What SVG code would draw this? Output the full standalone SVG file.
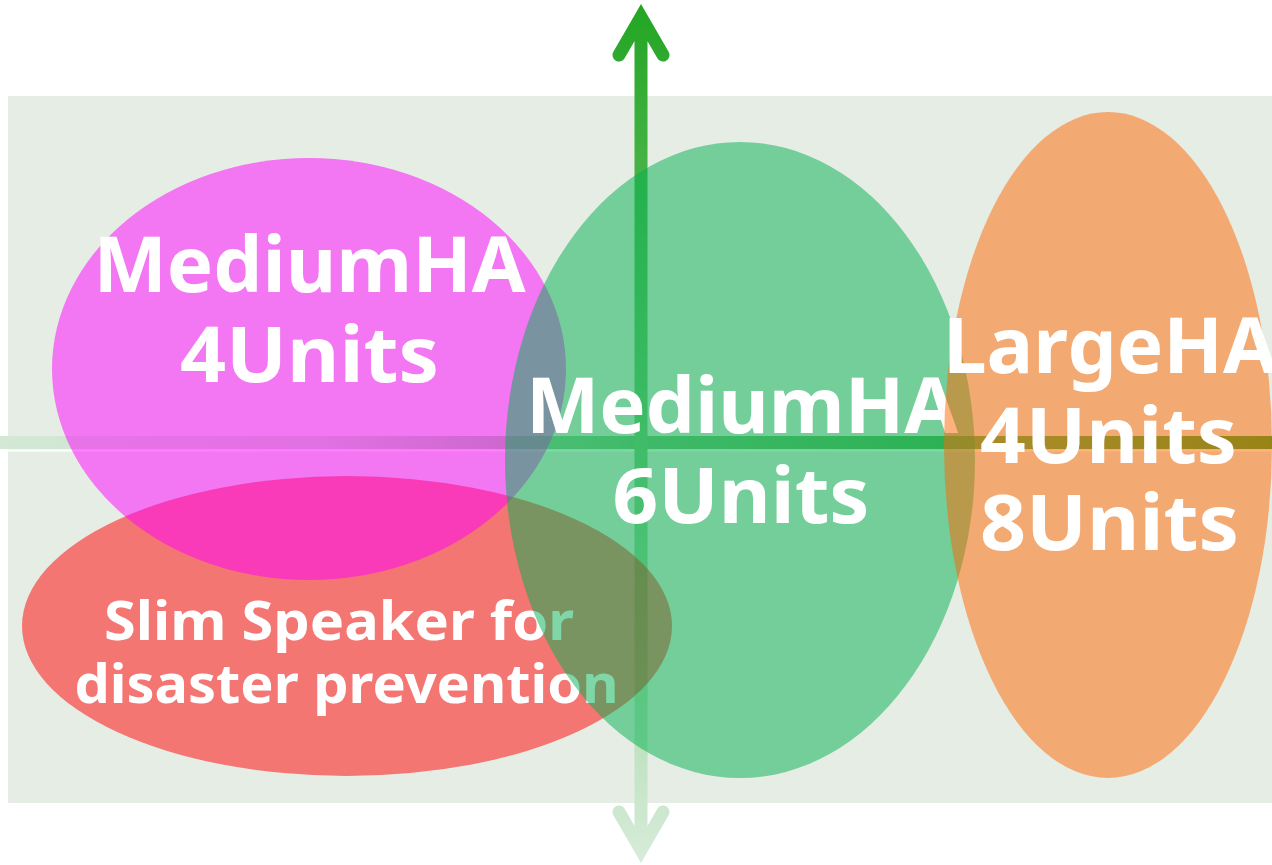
<svg xmlns="http://www.w3.org/2000/svg" width="1272" height="865" viewBox="0 0 1272 865">
<defs>
<linearGradient id="gh" gradientUnits="userSpaceOnUse" x1="0" y1="0" x2="1272" y2="0">
<stop offset="0" stop-color="#d4e8d6"/>
<stop offset="0.25" stop-color="#c4e2c7"/>
<stop offset="0.5" stop-color="#80c482"/>
<stop offset="1" stop-color="#2fa32f"/>
</linearGradient>
<linearGradient id="gv" gradientUnits="userSpaceOnUse" x1="0" y1="0" x2="0" y2="865">
<stop offset="0" stop-color="#22a522"/>
<stop offset="1" stop-color="#d8ecda"/>
</linearGradient>
<style>
.t{font-family:"Noto Sans","Noto Sans CJK JP",sans-serif;font-weight:bold;fill:#fff;text-anchor:middle}
.big{font-size:77px}
.sm{font-size:53px}
.e{opacity:0.5}
</style>
</defs>
<rect x="8" y="96" width="1264" height="707" fill="#e6ede5"/>
<g id="connectors" fill="none" stroke-width="13">
<line x1="0" y1="442.5" x2="1272" y2="442.5" stroke="url(#gh)"/>
<line x1="8" y1="450.5" x2="1272" y2="450.5" stroke="#fff" stroke-width="2"/>
<path d="M641 17 V850 M619 55 L641 17 L663 55 M619 812 L641 850 L663 812" stroke="url(#gv)" stroke-linecap="round" stroke-linejoin="miter"/>
</g>
<g id="slim">
<ellipse class="e" cx="347" cy="626" rx="325" ry="150" fill="#ff0000"/>
<text class="t sm" x="339" y="640" textLength="470" lengthAdjust="spacingAndGlyphs">Slim Speaker for</text>
<text class="t sm" x="346.5" y="703" textLength="544" lengthAdjust="spacingAndGlyphs">disaster prevention</text>
</g>
<g id="medium4">
<ellipse class="e" cx="309" cy="369" rx="257" ry="211" fill="#ff00ff"/>
<text class="t big" x="309.5" y="292" textLength="432" lengthAdjust="spacingAndGlyphs">MediumHA</text>
<text class="t big" x="309.5" y="382" textLength="259" lengthAdjust="spacingAndGlyphs">4Units</text>
</g>
<g id="medium6">
<ellipse class="e" cx="740" cy="460" rx="235" ry="318" fill="#00af50"/>
<text class="t big" x="742" y="433" textLength="432" lengthAdjust="spacingAndGlyphs">MediumHA</text>
<text class="t big" x="741" y="523" textLength="257" lengthAdjust="spacingAndGlyphs">6Units</text>
</g>
<g id="large">
<ellipse class="e" cx="1108" cy="445" rx="164" ry="333" fill="#ff6600"/>
<text class="t big" x="1110" y="373" textLength="334" lengthAdjust="spacingAndGlyphs">LargeHA</text>
<text class="t big" x="1108.5" y="463" textLength="257" lengthAdjust="spacingAndGlyphs">4Units</text>
<text class="t big" x="1109.5" y="550" textLength="259" lengthAdjust="spacingAndGlyphs">8Units</text>
</g>
</svg>
